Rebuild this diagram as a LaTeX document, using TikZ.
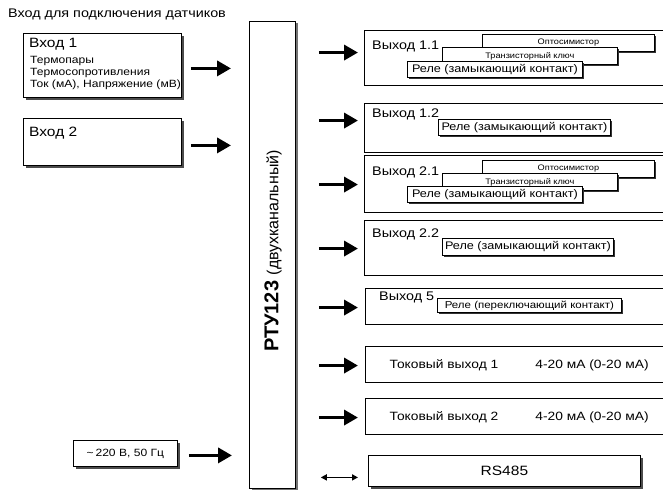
\documentclass[tikz,border=0pt]{standalone}
\usepackage{fontspec}
\setmainfont{Liberation Sans}[FakeStretch=1.15]
\newfontfamily\uprightfont{Liberation Sans}
\usetikzlibrary{arrows.meta}
\usetikzlibrary{calc}
\usetikzlibrary{shadows}

\tikzset{
    shadowbox/.style={draw, line width=0.8pt, fill=white, anchor=north west, inner sep=0pt,
        drop shadow={shadow xshift=3pt, shadow yshift=-3pt, fill=black!70, opacity=1}},
    outbox/.style={draw, line width=1.1pt, anchor=north west, inner sep=0pt, minimum width=304pt},
    relbox/.style={draw, line width=0.8pt, fill=white, anchor=north west, inner sep=0pt,
        drop shadow={shadow xshift=2pt, shadow yshift=-2pt, fill=black!80, opacity=1}},
    bigarrow/.style={-{Triangle[length=14pt,width=15pt]}, line width=3.5pt},
    outname/.style={anchor=west, inner sep=0pt, font=\fontsize{12.5}{14}\selectfont},
}

\begin{document}
\begin{tikzpicture}[x=1pt,y=-1pt]
            \useasboundingbox (0,0) rectangle (663,493);

            \node[anchor=west, inner sep=0pt, font=\fontsize{12.5}{14}\selectfont] (title) at (8,14) {Вход для подключения датчиков};

            \node[shadowbox, minimum width=158pt, minimum height=64pt] (in1) at (23,33) {};
            \node[anchor=west, inner sep=0pt, font=\fontsize{13.5}{15}\selectfont] (in1name) at (29,44) {Вход 1};
            \node[anchor=north west, align=left, inner sep=0pt, font=\fontsize{10.5}{12}\selectfont] (in1list) at (30,56) {Термопары\\Термосопротивления\\Ток (мА), Напряжение (мВ)};
            \node[shadowbox, minimum width=158pt, minimum height=47pt] (in2) at (23,118) {};
            \node[anchor=west, inner sep=0pt, font=\fontsize{13.5}{15}\selectfont] (in2name) at (29,133) {Вход 2};
            \node[shadowbox, minimum width=104pt, minimum height=26pt, font=\fontsize{10.5}{12}\selectfont] (power) at (73,440) {\textasciitilde\,220 В, 50 Гц};

            \node[draw, line width=0.8pt, fill=white, anchor=north west, minimum width=46pt, minimum height=467pt,
                drop shadow={shadow xshift=3pt, shadow yshift=-2pt, fill=black!55, opacity=1}] (rtu) at (249,21) {};
            \node[rotate=90, font=\uprightfont] (rtuname) at (273,251) {\fontsize{20}{22}\selectfont\bfseries РТУ123 \fontsize{16}{18}\selectfont\mdseries(двухканальный)};

            \node[outbox, minimum height=55pt] (out11) at (364,30) {};
            \node[outname] (out11name) at (372,46) {Выход 1.1};
            \node[relbox, minimum width=172pt, minimum height=17pt, font=\fontsize{8}{9}\selectfont] (out11opto) at (482,34) {Оптосимистор};
            \node[relbox, minimum width=175pt, minimum height=17pt, font=\fontsize{8}{9}\selectfont] (out11tr) at (442,47) {Транзисторный ключ};
            \node[relbox, minimum width=175pt, minimum height=16pt, font=\fontsize{11}{12}\selectfont] (out11rel) at (407,61) {Реле (замыкающий контакт)};

            \node[outbox, minimum height=49pt] (out12) at (364,103) {};
            \node[outname] (out12name) at (372,114) {Выход 1.2};
            \node[relbox, minimum width=172pt, minimum height=16pt, font=\fontsize{11}{12}\selectfont] (out12rel) at (438,119) {Реле (замыкающий контакт)};

            \node[outbox, minimum height=57pt] (out21) at (364,155) {};
            \node[outname] (out21name) at (372,172) {Выход 2.1};
            \node[relbox, minimum width=172pt, minimum height=17pt, font=\fontsize{8}{9}\selectfont] (out21opto) at (482,160) {Оптосимистор};
            \node[relbox, minimum width=175pt, minimum height=17pt, font=\fontsize{8}{9}\selectfont] (out21tr) at (442,173) {Транзисторный ключ};
            \node[relbox, minimum width=175pt, minimum height=16pt, font=\fontsize{11}{12}\selectfont] (out21rel) at (407,186) {Реле (замыкающий контакт)};

            \node[outbox, minimum height=55pt] (out22) at (364,220) {};
            \node[outname] (out22name) at (372,234) {Выход 2.2};
            \node[relbox, minimum width=171pt, minimum height=17pt, font=\fontsize{11}{12}\selectfont] (out22rel) at (442,238) {Реле (замыкающий контакт)};

            \node[outbox, minimum height=36pt] (out5) at (365,288) {};
            \node[outname] (out5name) at (379,297) {Выход 5};
            \node[relbox, minimum width=184pt, minimum height=14pt, font=\fontsize{10}{11}\selectfont] (out5rel) at (437,298) {Реле (переключающий контакт)};

            \node[outbox, minimum height=36pt] (cur1) at (365,346) {};
            \node[font=\fontsize{12}{14}\selectfont] (cur1name) at (444,365) {Токовый выход 1};
            \node[font=\fontsize{12}{14}\selectfont] (cur1range) at (592,365) {4-20 мА (0-20 мА)};
            \node[outbox, minimum height=36pt] (cur2) at (365,398) {};
            \node[font=\fontsize{12}{14}\selectfont] (cur2name) at (444,417) {Токовый выход 2};
            \node[font=\fontsize{12}{14}\selectfont] (cur2range) at (592,417) {4-20 мА (0-20 мА)};

            \node[shadowbox, minimum width=272pt, minimum height=31pt, font=\fontsize{13.5}{15}\selectfont] (rs) at (368,455) {RS485};

            \draw[bigarrow] ($(in1.east)+(9,3)$) -- ($(rtu.west |- in1.east)+(-18,3)$);
            \draw[bigarrow] ($(in2.east)+(9,3.5)$) -- ($(rtu.west |- in2.east)+(-18,3.5)$);
            \draw[bigarrow] ($(power.east)+(11,2)$) -- ($(rtu.west |- power.east)+(-17,2)$);

            \draw[bigarrow] ($(rtu.east |- out11.west)+(23,-5.5)$) -- ($(out11.west)+(-6,-5.5)$);
            \draw[bigarrow] ($(rtu.east |- out12.west)+(23,-7.5)$) -- ($(out12.west)+(-6,-7.5)$);
            \draw[bigarrow] ($(rtu.east |- out21.west)+(23,0.5)$) -- ($(out21.west)+(-6,0.5)$);
            \draw[bigarrow] ($(rtu.east |- out22.west)+(23,0.5)$) -- ($(out22.west)+(-6,0.5)$);
            \draw[bigarrow] ($(rtu.east |- out5.west)+(23,1)$) -- ($(out5.west)+(-7,1)$);
            \draw[bigarrow] ($(rtu.east |- cur1.west)+(23,1)$) -- ($(cur1.west)+(-7,1)$);
            \draw[bigarrow] ($(rtu.east |- cur2.west)+(23,1)$) -- ($(cur2.west)+(-7,1)$);
            \draw[{Triangle[length=6pt,width=6pt]}-{Triangle[length=6pt,width=6pt]}, line width=1.5pt] ($(rtu.east |- rs.west)+(25,6.5)$) -- ($(rs.west)+(-10,6.5)$);
        \end{tikzpicture}
\end{document}
